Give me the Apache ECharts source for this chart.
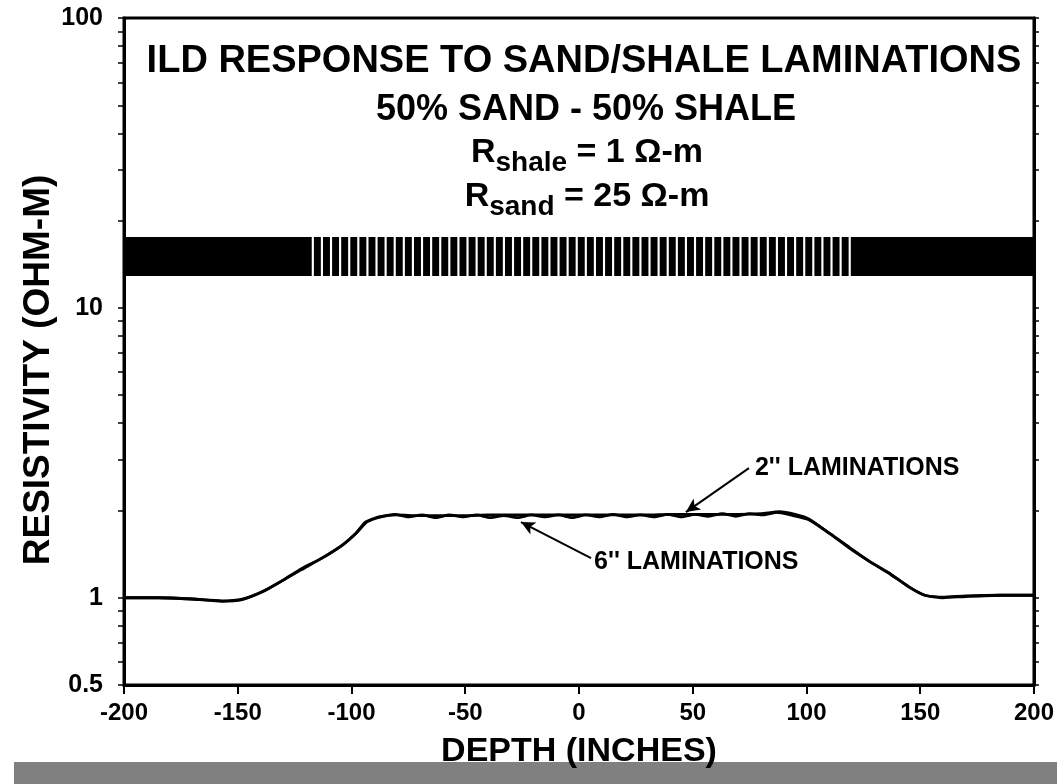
<!DOCTYPE html>
<html>
<head>
<meta charset="utf-8">
<script src="https://cdn.jsdelivr.net/npm/echarts@6/dist/echarts.min.js"></script>
<style>
  html, body { margin: 0; padding: 0; background: #fff; }
  #chart { width: 1057px; height: 784px; }
</style>
</head>
<body>
<div id="chart"></div>
<script>
// ILD response, depth in inches, resistivity in ohm-m
const depth2 = [-200, -185, -170, -157, -148, -139, -130, -122, -113, -104, -98, -94, -88, -80, -70, -60, -50, -40, -30, -20,
  -10, 0, 10, 20, 30, 40, 50, 60, 70, 80, 88, 95, 101, 110, 119, 128, 136, 145, 152, 160, 170, 185, 200];
const res2 = [1.00, 1.00, 0.99, 0.976, 0.99, 1.05, 1.15, 1.26, 1.37, 1.52, 1.67, 1.82, 1.90, 1.93, 1.92, 1.92, 1.92, 1.93, 1.93, 1.93,
  1.93, 1.93, 1.93, 1.93, 1.93, 1.94, 1.94, 1.94, 1.94, 1.95, 1.98, 1.94, 1.87, 1.67, 1.48, 1.33, 1.22, 1.09, 1.02, 1.005, 1.015, 1.02, 1.02];
const depth6 = [-200, -185, -170, -157, -148, -139, -130, -122, -113, -104, -98, -93, -87, -81, -75, -69, -63, -57, -51, -45,
  -39, -33, -27, -21, -15, -9, -3, 3, 9, 15, 21, 27, 33, 39, 45, 51, 57, 63, 69, 75,
  81, 87, 93, 101, 110, 119, 128, 136, 145, 152, 160, 170, 185, 200];
const res6 = [1.00, 1.00, 0.99, 0.972, 0.985, 1.05, 1.15, 1.25, 1.37, 1.52, 1.67, 1.83, 1.90, 1.94, 1.90, 1.93, 1.89, 1.93, 1.90, 1.93,
  1.89, 1.92, 1.89, 1.93, 1.90, 1.93, 1.89, 1.93, 1.90, 1.94, 1.90, 1.93, 1.90, 1.94, 1.90, 1.94, 1.91, 1.95, 1.91, 1.95,
  1.93, 1.97, 1.93, 1.86, 1.67, 1.49, 1.33, 1.22, 1.09, 1.02, 1.00, 1.01, 1.02, 1.02];

// formation column drawn across the top: thin beds outside, 2" sand beds in the middle
const solidBeds = [[-200, -120], [120, 200]];
const sandTops = [-120, -116, -112, -108, -104, -100, -96, -92, -88, -84, -80, -76, -72, -68, -64, -60, -56, -52, -48, -44,
  -40, -36, -32, -28, -24, -20, -16, -12, -8, -4, 0, 4, 8, 12, 16, 20, 24, 28, 32, 36,
  40, 44, 48, 52, 56, 60, 64, 68, 72, 76, 80, 84, 88, 92, 96, 100, 104, 108, 112, 116];
const sandThickness = 2;
const columnRange = [13, 17.4];

// axes
const xTicks = [-200, -150, -100, -50, 0, 50, 100, 150, 200];
const yLabels = [0.5, 1, 10, 100];
const yTicks = [0.5, 0.6, 0.7, 0.8, 0.9, 1, 2, 3, 4, 5, 6, 7, 8, 9, 10, 20, 30, 40, 50, 60, 70, 80, 90, 100];

// annotations: [label, arrow tail, arrow head]
const notes = [
  ["2'' LAMINATIONS", [74.7, 2.80], [47, 1.975]],
  ["6'' LAMINATIONS", [5.3, 1.371], [-25.5, 1.824]],
];

const FONT = "'Liberation Sans', Arial, Helvetica, sans-serif";

const chart = echarts.init(document.getElementById("chart"));

const columnData = solidBeds
  .map(b => [b[0], b[1], columnRange[0], columnRange[1]])
  .concat(sandTops.map(t => [t, t + sandThickness, columnRange[0], columnRange[1]]));

const option = {
  animation: false,
  backgroundColor: "#fff",
  grid: {
    left: 124, right: 23, top: 18, bottom: 99,
    show: true, borderColor: "#000", borderWidth: 3,
  },
  xAxis: {
    type: "value",
    min: -200, max: 200, interval: 50,
    name: "DEPTH (INCHES)",
    nameLocation: "middle",
    nameGap: 50,
    nameTextStyle: { fontFamily: FONT, fontWeight: "bold", fontSize: 34, color: "#000" },
    axisLine: { show: true, onZero: false, lineStyle: { color: "#000", width: 3 } },
    axisTick: { show: true, length: 9, inside: false, lineStyle: { color: "#000", width: 2 } },
    axisLabel: {
      margin: 16, fontFamily: FONT, fontWeight: "bold", fontSize: 24, color: "#000",
      customValues: xTicks,
    },
    splitLine: { show: false },
  },
  yAxis: [
    {
      type: "log", logBase: 10, min: 0.5, max: 100,
      axisLine: { show: true, onZero: false, lineStyle: { color: "#000", width: 3 } },
      axisTick: { show: true, length: 6, inside: false, customValues: yTicks, lineStyle: { color: "#000", width: 1.5 } },
      axisLabel: {
        margin: 21, fontFamily: FONT, fontWeight: "bold", fontSize: 25, color: "#000",
        customValues: yLabels,
        formatter: v => String(+(+v).toPrecision(3)),
      },
      splitLine: { show: false },
    },
    {
      type: "log", logBase: 10, min: 0.5, max: 100,
      position: "right",
      axisLine: { show: true, onZero: false, lineStyle: { color: "#000", width: 3 } },
      axisTick: { show: true, length: 5, inside: false, customValues: yTicks, lineStyle: { color: "#000", width: 1.5 } },
      axisLabel: { show: false },
      splitLine: { show: false },
    },
  ],
  series: [
    {
      name: "column",
      type: "custom",
      clip: true,
      encode: { x: [0, 1], y: [2, 3] },
      data: columnData,
      renderItem: (params, api) => {
        const p0 = api.coord([api.value(0), api.value(3)]);
        const p1 = api.coord([api.value(1), api.value(2)]);
        return {
          type: "rect",
          shape: { x: p0[0], y: p0[1], width: p1[0] - p0[0], height: p1[1] - p0[1] },
          style: { fill: "#000", stroke: "#000", lineWidth: 2.4 },
        };
      },
      silent: true,
    },
    {
      name: "6 in",
      type: "line",
      data: depth6.map((d, i) => [d, res6[i]]),
      showSymbol: false,
      smooth: 0.2,
      lineStyle: { color: "#000", width: 2.8 },
      silent: true,
    },
    {
      name: "2 in",
      type: "line",
      data: depth2.map((d, i) => [d, res2[i]]),
      showSymbol: false,
      smooth: 0.2,
      lineStyle: { color: "#000", width: 2.8 },
      silent: true,
      markLine: {
        silent: true,
        symbol: ["none", "arrow"],
        symbolSize: [10, 14],
        label: { show: false },
        lineStyle: { color: "#000", width: 2, type: "solid" },
        data: notes.map(n => [{ coord: n[1] }, { coord: n[2] }]),
      },
    },
  ],
};
chart.setOption(option);

// titles and annotation text
const ctx = document.createElement("canvas").getContext("2d");
const textWidth = (s, size) => {
  ctx.font = "bold " + size + "px " + FONT;
  return ctx.measureText(s).width;
};
const txt = (x, y, s, size, align) => ({
  type: "text", x: x, y: y, silent: true,
  style: {
    text: s, fill: "#000", font: "bold " + size + "px " + FONT,
    textAlign: align || "center", textVerticalAlign: "middle",
  },
});
// text with a subscript, centred on cx
const subLine = (cx, y, parts) => {
  const w = parts.reduce((a, p) => a + textWidth(p[0], p[1]), 0);
  let x = cx - w / 2;
  return parts.map(p => {
    const el = txt(x, y + p[2], p[0], p[1], "left");
    x += textWidth(p[0], p[1]);
    return el;
  });
};

const cx = 587;
const yName = txt(0, 0, "RESISTIVITY (OHM-M)", 37);
yName.x = 39;
yName.y = 370;
yName.rotation = Math.PI / 2;

const graphic = [
  { type: "rect", shape: { x: 14, y: 762, width: 1057 - 14, height: 22 }, style: { fill: "#808080" }, silent: true },
  txt(584, 62, "ILD RESPONSE TO SAND/SHALE LAMINATIONS", 38),
  txt(586, 110, "50% SAND - 50% SHALE", 36),
  ...subLine(cx, 153, [["R", 34, 0], ["shale", 28, 10], [" = 1 \u03A9-m", 34, 0]]),
  ...subLine(cx, 197, [["R", 34, 0], ["sand", 28, 10], [" = 25 \u03A9-m", 34, 0]]),
  yName,
];
notes.forEach((n, i) => {
  const p = chart.convertToPixel({ gridIndex: 0 }, n[1]);
  graphic.push(txt(p[0] + (i === 0 ? 6 : 3), p[1] + (i === 0 ? 0 : 4), n[0], 25, "left"));
});
chart.setOption({ graphic: graphic });
</script>
</body>
</html>
